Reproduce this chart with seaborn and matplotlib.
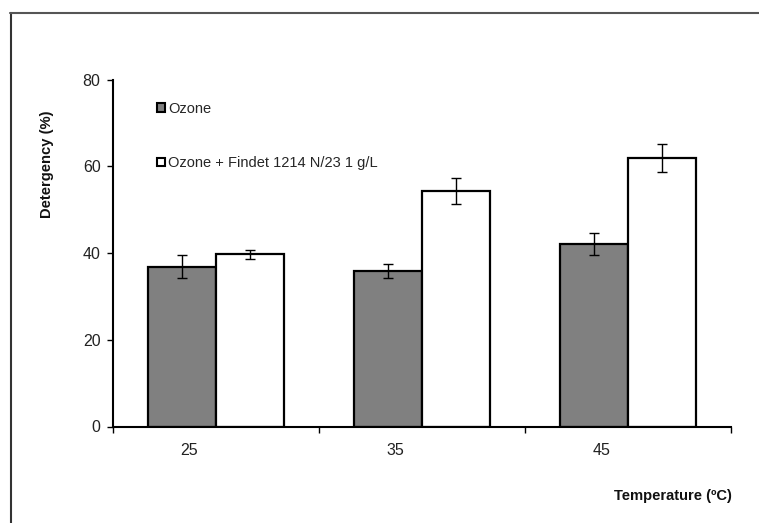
import pandas as pd
import seaborn as sns
import matplotlib.pyplot as plt
from matplotlib.lines import Line2D
from matplotlib.patches import Patch

# Data
temperatures = ["25", "35", "45"]
series = ["Ozone", "Ozone + Findet 1214 N/23 1 g/L"]
ozone = [36.9, 35.9, 42.1]
ozone_err = [2.7, 1.7, 2.6]
findet = [39.7, 54.4, 61.9]
findet_err = [1.1, 3.0, 3.3]

df = pd.DataFrame({
    "Temperature": temperatures * 2,
    "Series": [series[0]] * 3 + [series[1]] * 3,
    "Detergency": ozone + findet,
    "Err": ozone_err + findet_err,
})

sns.set_style("white")
plt.rcParams["font.family"] = ["Liberation Sans", "DejaVu Sans"]

W, H = 759, 523
fig = plt.figure(figsize=(W / 100, H / 100), dpi=100)
ax = fig.add_axes([113 / W, 1 - 426.5 / H, (731 - 113) / W, (426.5 - 79.7) / H])

palette = {series[0]: "#808080", series[1]: "#ffffff"}
sns.barplot(data=df, x="Temperature", y="Detergency", hue="Series",
            palette=palette, width=0.665, gap=0, errorbar=None,
            edgecolor="black", linewidth=1.6, legend=False, ax=ax)

# error bars at bar centres
bars = [p for p in ax.patches if p.get_height() > 0]
bars.sort(key=lambda p: p.get_x())
vals = sorted(zip(df["Detergency"], df["Err"], df["Temperature"], df["Series"]),
              key=lambda r: (r[2], series.index(r[3])))
for p, (v, e, _, _) in zip(bars, vals):
    ax.errorbar(p.get_x() + p.get_width() / 2, p.get_height(), yerr=e,
                fmt="none", ecolor="black", elinewidth=1, capsize=3.5, capthick=1)

ax.set_xlim(-0.5, 2.5)
ax.set_ylim(0, 80)
ax.set_yticks([0, 20, 40, 60, 80])
ax.set_xticks([-0.5, 0.5, 1.5, 2.5])
ax.set_xticklabels([])
ax.set_xticks([i - 0.13 for i in range(3)], minor=True)
ax.set_xticklabels(temperatures, minor=True)
ax.tick_params(axis="x", which="minor", bottom=True, length=0, pad=12,
               labelsize=11.5, labelcolor="#222222")
ax.tick_params(axis="x", which="major", bottom=True, length=4, width=1,
               direction="out", color="black")
ax.tick_params(axis="y", left=True, length=4, width=1, direction="out", color="black",
               labelsize=11.5, labelcolor="#222222", pad=5)
ax.set_xlabel("")
ax.set_ylabel("")
for s in ["top", "right"]:
    ax.spines[s].set_visible(False)
for s in ["left", "bottom"]:
    ax.spines[s].set_color("black")
    ax.spines[s].set_linewidth(1.5)

fig.text(47 / W, 1 - 164 / H, "Detergency (%)", rotation=90, fontsize=10.6,
         fontweight="bold", ha="center", va="center", color="#111111")
fig.text(732 / W, 1 - 496 / H, "Temperature (ºC)", fontsize=10.6,
         fontweight="bold", ha="right", va="center", color="#111111")

handles = [Patch(facecolor=palette[s], edgecolor="black", linewidth=1.5) for s in series]
fig.legend(handles, series, loc="upper left", bbox_to_anchor=(157 / W, 1 - 102 / H),
           frameon=False, fontsize=10.5, handlelength=0.55, handleheight=0.55,
           handletextpad=0.2, labelspacing=2.75, borderpad=0, borderaxespad=0)

# outer frame (left and top edges visible)
fig.add_artist(Line2D([10.5 / W, 10.5 / W], [0, 1 - 13 / H], color="#333333", lw=1.5))
fig.add_artist(Line2D([10 / W, 1], [1 - 13 / H, 1 - 13 / H], color="#555555", lw=1.5))

fig.savefig("out.png", dpi=100)
